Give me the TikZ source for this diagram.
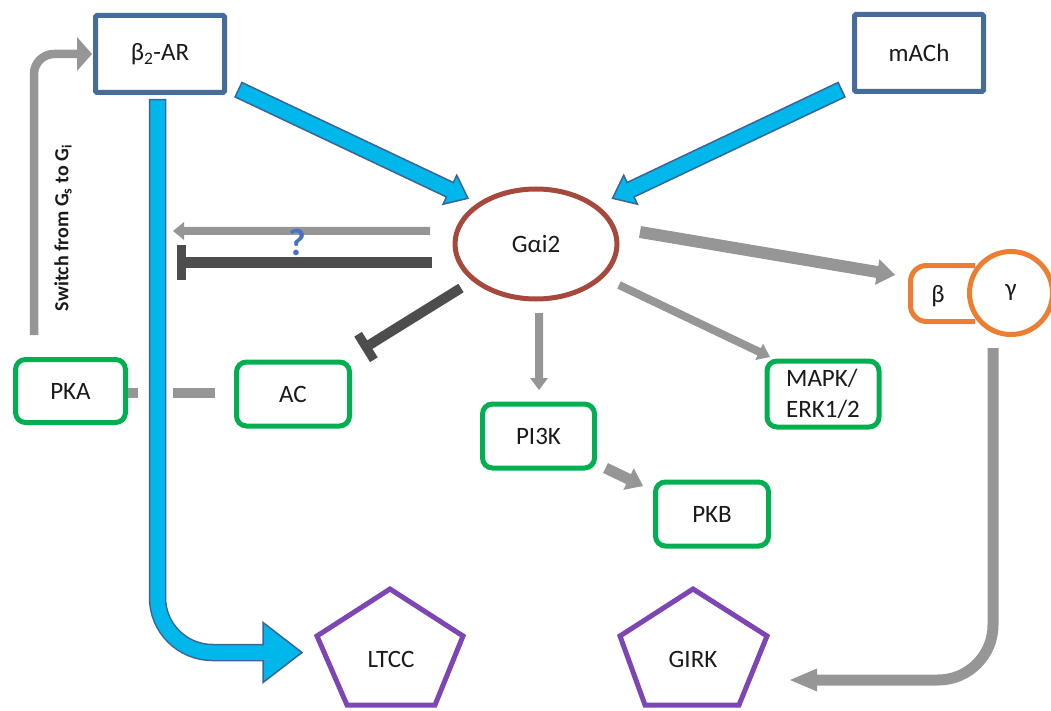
\documentclass[tikz,border=0pt]{standalone}
\usepackage{fontspec}
\setmainfont{Carlito}
\usetikzlibrary{calc,shapes.geometric}
\definecolor{boxblue}{RGB}{70,108,154}
\definecolor{arrfill}{RGB}{0,183,235}
\definecolor{arrline}{RGB}{60,100,150}
\definecolor{gred}{RGB}{166,72,60}
\definecolor{gorange}{RGB}{237,125,49}
\definecolor{ggreen}{RGB}{0,176,80}
\definecolor{gpurple}{RGB}{125,70,180}
\definecolor{lgray}{RGB}{150,150,150}
\definecolor{dgray}{RGB}{77,77,77}
\definecolor{qblue}{RGB}{68,114,196}
\definecolor{txt}{RGB}{26,26,26}
% style, from, to, shaft half width, head half width, head length
\newcommand{\fatarrow}[6]{%
  \coordinate (fahead) at ($(#3)!#6!(#2)$);
  \path[#1] ($(#2)!#4!90:(#3)$) -- ($(fahead)!#4!90:(#3)$) -- ($(fahead)!#5!90:(#3)$) -- (#3)
    -- ($(fahead)!#5!-90:(#3)$) -- ($(fahead)!#4!-90:(#3)$) -- ($(#2)!#4!-90:(#3)$) -- cycle;
}
% style, from, to, shaft width, bar half length, bar width
\newcommand{\inhibitbar}[6]{%
  \draw[#1, line width=#4] (#2) -- (#3);
  \draw[#1, line width=#6] ($(#3)!#5!90:(#2)$) -- ($(#3)!#5!-90:(#2)$);
}
\begin{document}
\begin{tikzpicture}[x=1pt,y=-1pt,
  lbl/.style={text=txt, font=\fontsize{25}{30.5}\selectfont},
  recbox/.style={draw=boxblue, line width=5pt, fill=white, minimum width=129pt, minimum height=77pt, inner sep=0pt, rounded corners=1.5pt, lbl},
  grbox/.style={draw=ggreen, line width=5pt, fill=white, rounded corners=10pt, inner sep=0pt, minimum width=112pt, minimum height=64pt, lbl},
  penta/.style={draw=gpurple, line width=5pt, line join=miter},
  bluearr/.style={fill=arrfill, draw=arrline, line width=1.5pt, line join=miter},
  grayarr/.style={fill=lgray},
]
\useasboundingbox (0,0) rectangle (1051,711);

% ---------- nodes ----------
\node[recbox] (b2) at (160,54) {β\textsubscript{2}-AR};
\node[recbox] (mach) at (919,53) {mACh};
\node[ellipse, draw=gred, line width=5pt, fill=white, minimum width=162pt, minimum height=110pt, inner sep=0pt, lbl] (gai) at (536,244) {Gαi2};
\node[grbox, minimum width=110pt, minimum height=63pt] (pka) at (70.5,391) {PKA};
\node[grbox, minimum width=113pt] (ac) at (293,394) {AC};
\node[grbox] (pi3k) at (538.5,436) {PI3K};
\node[grbox, minimum width=113pt] (pkb) at (712,514) {PKB};
\node[grbox, minimum height=66pt, align=left] (mapk) at (823,394) {MAPK/\\ERK1/2};

% beta-gamma
\draw[gorange, line width=5pt, fill=white, rounded corners=16pt] (975,265.5) -- (910.5,265.5) -- (910.5,321.5) -- (975,321.5);
\node[lbl] (beta) at (938,296) {β};
\node[circle, draw=gorange, line width=5pt, fill=white, minimum size=83pt, inner sep=0pt, lbl] (gamma) at (1011,293) {γ};

% pentagons
\node[lbl] (ltcc) at (391,659) {LTCC};
\draw[penta] (390,589) -- (463,636) -- (435,705) -- (347,705) -- (317,636) -- cycle;
\node[lbl] (girk) at (693,659) {GIRK};
\draw[penta] (693,589) -- (767,636) -- (739,705) -- (645,705) -- (620,636) -- cycle;

% ---------- connector end points ----------
\coordinate (a1s) at (238.5,89.7);  \coordinate (a1e) at (468,198.3);
\coordinate (a2s) at (841.5,89.7);  \coordinate (a2e) at (612.5,198.3);
\coordinate (qs) at (430,231);      \coordinate (qe) at (173,231);
\coordinate (t1s) at (432,262.5);   \coordinate (t1e) at (181,262.5);
\coordinate (t2s) at (461,288);     \coordinate (t2e) at (366,347);
\coordinate (pis) at (539,313);     \coordinate (pie) at (539,390);
\coordinate (mks) at (619,285);     \coordinate (mke) at (770,357);
\coordinate (bgs) at (640,232);     \coordinate (bge) at (895,275);
\coordinate (pkbs) at (605.5,468);  \coordinate (pkbe) at (643,486);
\coordinate (dsa) at (215,393);     \coordinate (dsb) at (128,393);
\coordinate (lts) at (157.5,99);    \coordinate (lts2) at (157.5,100.5);
\coordinate (lth) at (263,652.5);   \coordinate (lth2) at (266,652.5);
\coordinate (ltt) at (302,652.5);
\coordinate (gks) at (993,348);     \coordinate (gkh) at (817,680);
\coordinate (gkt) at (790,680);
\coordinate (sws) at (34,335);      \coordinate (swh) at (77,54);
\coordinate (swt) at (92,54);

% ---------- connectors ----------
\fatarrow{bluearr}{a1s}{a1e}{8pt}{16pt}{20pt}
\fatarrow{bluearr}{a2s}{a2e}{8pt}{16pt}{20pt}

% beta2-AR to LTCC
\fatarrow{bluearr}{lth}{ltt}{8pt}{30pt}{39pt}
\draw[arrline, line width=17.5pt, rounded corners=55pt] (lts) |- (lth);
\draw[arrfill, line width=14.5pt, rounded corners=55pt] (lts2) |- (lth2);

\fatarrow{grayarr}{qs}{qe}{4pt}{9pt}{11pt}
\inhibitbar{dgray}{t1s}{t1e}{11pt}{17.5pt}{9pt}
\inhibitbar{dgray}{t2s}{t2e}{10pt}{15pt}{9pt}
\fatarrow{grayarr}{pis}{pie}{4pt}{9pt}{12pt}
\fatarrow{grayarr}{mks}{mke}{4pt}{9pt}{12pt}
\fatarrow{grayarr}{bgs}{bge}{6pt}{13pt}{18pt}
\fatarrow{grayarr}{pkbs}{pkbe}{5.5pt}{12pt}{16pt}
\draw[lgray, line width=10pt, dash pattern=on 42pt off 35pt] (dsa) -- (dsb);

% beta-gamma to GIRK
\draw[lgray, line width=11pt, rounded corners=55pt] (gks) |- (gkh);
\fatarrow{grayarr}{gkh}{gkt}{5.5pt}{11.5pt}{27pt}

% switch arrow
\draw[lgray, line width=8.5pt, rounded corners=20pt] (sws) |- (swh);
\fatarrow{grayarr}{swh}{swt}{4.25pt}{17pt}{15pt}
\node[rotate=90, text=txt, font=\bfseries\fontsize{20}{24}\selectfont] (swtxt) at (63,228) {Switch from G\textsubscript{s} to G\textsubscript{i}};

\node[text=qblue, font=\bfseries\fontsize{38}{42}\selectfont] (qm) at (297,243) {?};
\end{tikzpicture}
\end{document}
